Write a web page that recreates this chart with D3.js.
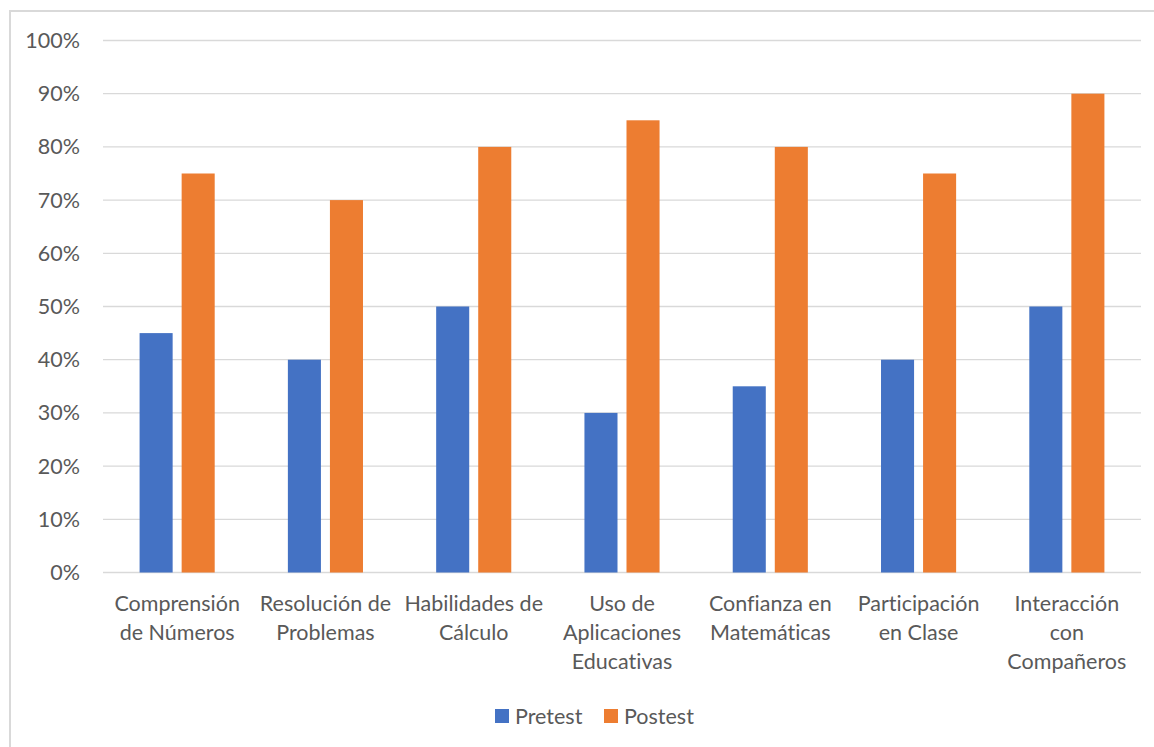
<!DOCTYPE html>
<html>
<head>
<meta charset="utf-8">
<script src="https://cdn.jsdelivr.net/npm/d3@7"></script>
<style>
	body { margin: 0; background: #fff; }
	text { font-family: Lato, 'Open Sans', sans-serif; fill: #595959; font-variant-ligatures: none; }
</style>
</head>
<body>
<div id="chart"></div>
<script>
var categories = [
	'Comprensión\nde Números',
	'Resolución de\nProblemas',
	'Habilidades de\nCálculo',
	'Uso de\nAplicaciones\nEducativas',
	'Confianza en\nMatemáticas',
	'Participación\nen Clase',
	'Interacción\ncon\nCompañeros'
];
var seriesNames = ['Pretest', 'Postest'];
var pretest = [0.45, 0.40, 0.50, 0.30, 0.35, 0.40, 0.50];
var postest = [0.75, 0.70, 0.80, 0.85, 0.80, 0.75, 0.90];
var yTicks = [0, 0.1, 0.2, 0.3, 0.4, 0.5, 0.6, 0.7, 0.8, 0.9, 1];

(function() {
	var width = 1154,
		height = 747,
		colors = ['#4472C4', '#ED7D31'],
		fontSize = 21.5;

	var svg = d3.select('#chart').append('svg')
		.attr('width', width)
		.attr('height', height);

	// outer chart frame
	svg.append('rect')
		.attr('x', 10).attr('y', 11)
		.attr('width', width + 10).attr('height', height + 10)
		.attr('fill', '#fff')
		.attr('stroke', '#D9D9D9')
		.attr('stroke-width', 2);

	var x = d3.scaleBand()
		.domain(categories)
		.range([103, 1141]);
	var xs = d3.scaleBand()
		.domain(seriesNames)
		.range([0, x.bandwidth()])
		.paddingInner(0.214)
		.paddingOuter(0.87);
	var y = d3.scaleLinear()
		.domain([0, 1])
		.range([572.5, 40.5]);

	// gridlines
	svg.append('g').selectAll('line')
		.data(yTicks)
		.enter().append('line')
		.attr('x1', 103).attr('x2', 1141)
		.attr('y1', function(d) { return y(d); })
		.attr('y2', function(d) { return y(d); })
		.attr('stroke', '#D9D9D9')
		.attr('stroke-width', 1.3);

	// y tick labels
	svg.append('g').selectAll('text')
		.data(yTicks)
		.enter().append('text')
		.attr('x', 80)
		.attr('y', function(d) { return y(d); })
		.attr('dy', '0.35em')
		.attr('text-anchor', 'end')
		.style('font-size', fontSize + 'px')
		.text(function(d) { return d3.format('.0%')(d); });

	// bars
	var rows = categories.map(function(c, i) {
		return { cat: c, values: [pretest[i], postest[i]] };
	});
	var group = svg.append('g').selectAll('g')
		.data(rows)
		.enter().append('g')
		.attr('transform', function(d) { return 'translate(' + x(d.cat) + ',0)'; });
	group.selectAll('rect')
		.data(function(d) { return d.values.map(function(v, j) { return { key: seriesNames[j], v: v, j: j }; }); })
		.enter().append('rect')
		.attr('x', function(d) { return xs(d.key); })
		.attr('width', xs.bandwidth())
		.attr('y', function(d) { return y(d.v); })
		.attr('height', function(d) { return y(0) - y(d.v); })
		.attr('fill', function(d) { return colors[d.j]; });

	// category labels
	var labels = svg.append('g').selectAll('text')
		.data(categories)
		.enter().append('text')
		.attr('text-anchor', 'middle')
		.style('font-size', fontSize + 'px')
		.attr('transform', function(d) { return 'translate(' + (x(d) + x.bandwidth() / 2) + ',611)'; });
	labels.selectAll('tspan')
		.data(function(d) { return d.split('\n'); })
		.enter().append('tspan')
		.attr('x', 0)
		.attr('y', function(d, i) { return i * 28.8; })
		.text(function(d) { return d; });

	// legend
	var legendX = [495, 604];
	var legend = svg.append('g').selectAll('g')
		.data(seriesNames)
		.enter().append('g')
		.attr('transform', function(d, i) { return 'translate(' + legendX[i] + ',709)'; });
	legend.append('rect')
		.attr('width', 14).attr('height', 14)
		.attr('fill', function(d, i) { return colors[i]; });
	legend.append('text')
		.attr('x', 20).attr('y', 7)
		.attr('dy', '0.35em')
		.style('font-size', fontSize + 'px')
		.text(function(d) { return d; });
})();
</script>
</body>
</html>
